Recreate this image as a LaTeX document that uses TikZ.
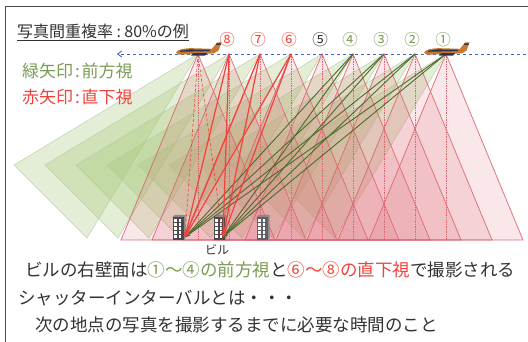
\documentclass[tikz,border=0pt]{standalone}
\usepackage{fontspec}
\setmainfont{Noto Sans CJK JP}
\usetikzlibrary{arrows.meta}

\definecolor{txtgray}{HTML}{333333}
\definecolor{framegray}{HTML}{4A4A4A}
\definecolor{fwdgreen}{HTML}{7B9C55}
\definecolor{nadred}{HTML}{F0433B}
\definecolor{tripink}{HTML}{E06A78}
\definecolor{triedge}{HTML}{D9646E}
\definecolor{conegreen}{HTML}{A6C978}
\definecolor{coneedge}{HTML}{B4C7A0}
\definecolor{arrgreen}{HTML}{4D6A2D}
\definecolor{flightblue}{HTML}{4263C9}
\definecolor{planebody}{HTML}{C9792C}
\definecolor{planedark}{HTML}{2C3552}
\definecolor{bldgdark}{HTML}{4B4B4E}
\definecolor{bldgside}{HTML}{8A8A8E}

\tikzset{
  fwdcone/.style={fill=conegreen, fill opacity=0.3, draw=coneedge, draw opacity=0.8, line width=0.5pt},
  nadirtri/.style={fill=tripink, fill opacity=0.16, draw=triedge, draw opacity=0.9, line width=0.75pt},
  centerline/.style={draw=triedge, densely dotted, line width=0.7pt},
  flightline/.style={draw=flightblue, dashed, dash pattern=on 3.5pt off 2.5pt, line width=0.9pt, -{Straight Barb[length=4pt,width=6pt]}},
  redarrow/.style={draw=nadred, line width=1.2pt, -{Stealth[length=5pt,width=4.5pt]}},
  reddashed/.style={draw=nadred, densely dashed, line width=0.6pt, -{Stealth[length=4pt,width=3.5pt]}},
  grnarrow/.style={draw=arrgreen, line width=0.9pt, -{Stealth[length=5pt,width=4pt]}},
  camlabel/.style={font=\fontsize{15.5}{15.5}\selectfont, inner sep=0pt},
  bigtext/.style={font=\fontsize{17.5}{20}\selectfont, text=txtgray, inner sep=0pt, anchor=west},
  legendtext/.style={font=\fontsize{17}{20}\selectfont, inner sep=0pt, anchor=west},
}

% a small office block, anchored at its bottom centre
\newcommand{\officeblock}[2]{%
  \begin{scope}[shift={(#1,240)}]
    \fill[bldgside] (-5.5,-23) -- (-3.5,-25) -- (7.5,-25) -- (7.5,-2) -- (5.5,0) -- cycle;
    \fill[#2] (-5.5,-23) rectangle (5.5,0);
    \foreach \r in {0,...,4}{
      \foreach \c in {0,1}{
        \fill[white] ({-3.8+\c*4.4},{-20.5+\r*4}) rectangle ++(2.6,2.2);
      }
    }
  \end{scope}}

% small aircraft, nose to the left, origin at the camera point
\newcommand{\aircraft}[1]{%
  \begin{scope}[shift={(#1)}]
    \fill[planebody] (-22,-1.5) .. controls (-20,-4.8) and (-14,-5.8) .. (-6,-5.8)
      -- (14,-5.2) -- (19,-11.5) -- (23.5,-11.5) -- (20.5,-3.5) -- (16,-0.6)
      -- (-16,0.6) .. controls (-20,0.6) .. cycle;
    \fill[planedark] (-18,-3.2) -- (-9,-4.6) -- (12,-4.2) -- (12,-2.9) -- (-18,-2.2) -- cycle;
    \fill[planedark] (-5,-0.8) -- (9,-0.8) -- (7,1.6) -- (-7,1.6) -- cycle;
    \fill[planedark] (18.5,-10.5) -- (23,-10.5) -- (22.5,-9) -- (18,-9) -- cycle;
  \end{scope}}

\begin{document}
\begin{tikzpicture}[x=1pt,y=-1pt]
\useasboundingbox (0,0) rectangle (528,342);
\fill[white] (0,0) rectangle (528,342);

% camera stations along the flight line
\foreach \n/\x in {0/198,8/229,7/260,6/291,5/322,4/353,3/384,2/415,1/446}{
  \coordinate (c\n) at (\x,54);
}

% forward-looking footprints
\foreach \n in {0,8,7,6,5,4,3,2,1}{
  \fill[fwdcone] (c\n) -- ++(-184,111) -- ++(73,73) -- cycle;
}
% nadir footprints
\foreach \n in {0,8,7,6,5,4,3,2,1}{
  \path[nadirtri] (c\n) -- ++(-77,186) -- ++(154,0) -- cycle;
}
% optical axes of the nadir views
\foreach \n in {0,8,7,6,5,4,3,2,1}{
  \draw[centerline] (c\n) -- ++(0,186);
}

% flight line
\coordinate (flightend) at (526,54);
\coordinate (flighttip) at (117,54);
\draw[flightline] (flightend) -- (flighttip);

% buildings
\officeblock{178}{bldgdark}
\officeblock{219}{bldgdark}
\officeblock{262}{bldgside!70!black}
\coordinate (t1) at (185,237);
\coordinate (t2) at (223,237);
\node[font=\fontsize{12}{12}\selectfont, text=txtgray, inner sep=0pt] (bldlabel) at (217,250) {ビル};

% forward views of the right walls
\foreach \n in {1,2,3,4}{
  \draw[grnarrow] (c\n) -- (t1);
  \draw[grnarrow] (c\n) -- (t2);
}
% nadir views of the right walls
\draw[reddashed] (c0) -- (t1);
\draw[reddashed] (c0) -- (t2);
\foreach \n in {6,7,8}{
  \draw[redarrow] (c\n) -- (t1);
  \draw[redarrow] (c\n) -- (t2);
}

% aircraft at the first and last stations
\aircraft{c0}
\aircraft{c1}

% station numbers
\node[camlabel, text=nadred] (l8) at (227,40) {⑧};
\node[camlabel, text=nadred] (l7) at (258,40) {⑦};
\node[camlabel, text=nadred] (l6) at (289,40) {⑥};
\node[camlabel, text=txtgray] (l5) at (320,40) {⑤};
\node[camlabel, text=fwdgreen] (l4) at (350,40) {④};
\node[camlabel, text=fwdgreen] (l3) at (381,40) {③};
\node[camlabel, text=fwdgreen] (l2) at (412,40) {②};
\node[camlabel, text=fwdgreen] (l1) at (443,40) {①};

% frame
\draw[framegray, line width=1pt] (5.5,342) -- (5.5,6.5) -- (528,6.5);

% headings and legend
\node[font=\fontsize{16}{18}\selectfont, text=txtgray, inner sep=0pt, anchor=west] (title) at (17,32)
  {\underline{写真間重複率\makebox[0.7em]{:}80\%の例}};
\node[legendtext, text=fwdgreen] (leggreen) at (22,71) {緑矢印\makebox[0.5em]{:}前方視};
\node[legendtext, text=nadred] (legred) at (22,97) {赤矢印\makebox[0.5em]{:}直下視};

% notes
\node[bigtext] (note1) at (25,270)
  {ビルの右壁面は\textcolor{fwdgreen}{①～④の前方視}と\textcolor{nadred}{⑥～⑧の直下視}で撮影される};
\node[bigtext] (note2) at (18,298) {シャッターインターバルとは・・・};
\node[bigtext] (note3) at (35,325) {次の地点の写真を撮影するまでに必要な時間のこと};
\end{tikzpicture}
\end{document}
